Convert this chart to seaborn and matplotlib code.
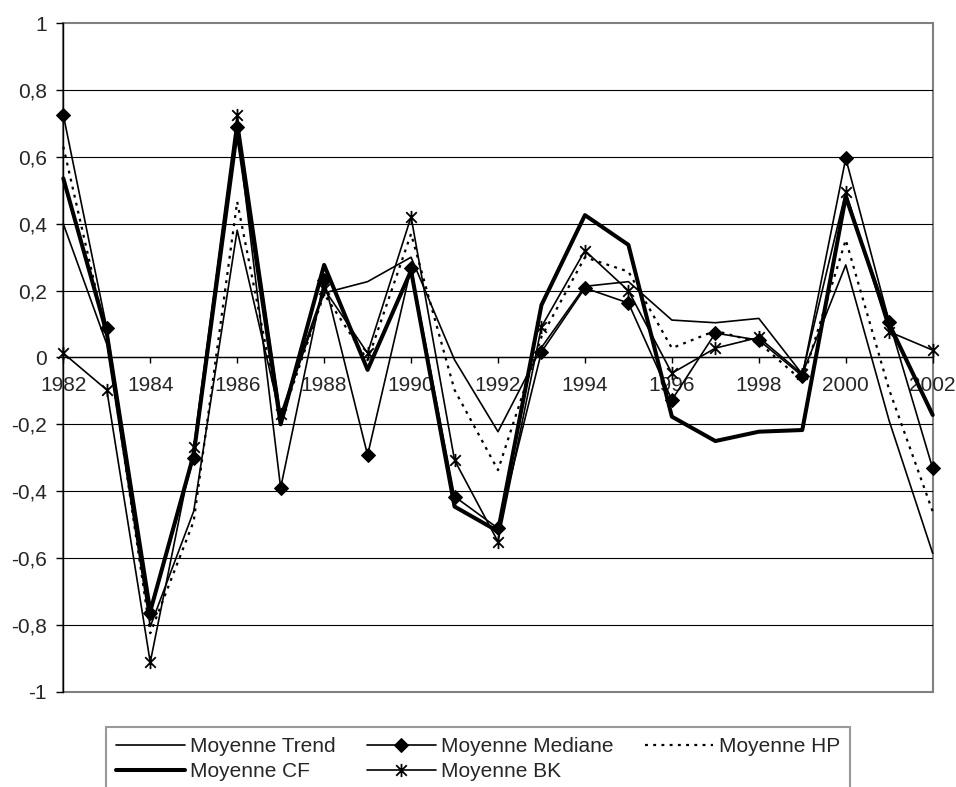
import matplotlib
matplotlib.use("Agg")
import matplotlib.pyplot as plt
from matplotlib.path import Path
from matplotlib.patches import Rectangle
import seaborn as sns
import pandas as pd

# ---- data -------------------------------------------------------------
years = list(range(1982, 2003))

trend = [0.40, 0.04, -0.805, -0.46, 0.381, -0.18, 0.193, 0.227, 0.30, -0.007,
         -0.222, 0.03, 0.213, 0.227, 0.112, 0.104, 0.117, -0.05, 0.277, -0.19,
         -0.586]
mediane = [0.726, 0.088, -0.765, -0.30, 0.69, -0.39, 0.232, -0.292, 0.268,
           -0.416, -0.511, 0.017, 0.208, 0.163, -0.127, 0.073, 0.052, -0.055,
           0.596, 0.107, -0.332]
hp = [0.631, 0.06, -0.825, -0.49, 0.466, -0.19, 0.19, -0.008, 0.37, -0.097,
      -0.337, 0.062, 0.30, 0.257, 0.028, 0.08, 0.045, -0.07, 0.352, -0.097,
      -0.461]
cf = [0.536, 0.073, -0.76, -0.29, 0.68, -0.2, 0.277, -0.037, 0.26, -0.446,
      -0.52, 0.157, 0.426, 0.337, -0.177, -0.25, -0.222, -0.217, 0.481, 0.10,
      -0.172]
bk = [0.013, -0.097, -0.912, -0.267, 0.726, -0.17, 0.205, 0.013, 0.421,
      -0.307, -0.551, 0.092, 0.32, 0.20, -0.047, 0.028, 0.06, -0.05, 0.496,
      0.077, 0.022]

series_names = ["Moyenne Trend", "Moyenne Mediane", "Moyenne HP",
                "Moyenne CF", "Moyenne BK"]

x_ticks = [1982, 1984, 1986, 1988, 1990, 1992, 1994, 1996, 1998, 2000, 2002]
y_ticks = [-1, -0.8, -0.6, -0.4, -0.2, 0, 0.2, 0.4, 0.6, 0.8, 1]
y_labels = ["-1", "-0,8", "-0,6", "-0,4", "-0,2", "0", "0,2", "0,4", "0,6",
            "0,8", "1"]

df = pd.DataFrame({"year": years, "Moyenne Trend": trend,
                   "Moyenne Mediane": mediane, "Moyenne HP": hp,
                   "Moyenne CF": cf, "Moyenne BK": bk})

# ---- style ------------------------------------------------------------
sns.set_style("white")
plt.rcParams["font.family"] = ["Liberation Sans", "DejaVu Sans"]
plt.rcParams["font.size"] = 15

# asterisk marker: an X crossed by a vertical bar
star = Path([(-1, -1), (1, 1), (-1, 1), (1, -1), (0, -1.25), (0, 1.25)],
            [Path.MOVETO, Path.LINETO, Path.MOVETO, Path.LINETO,
             Path.MOVETO, Path.LINETO])

styles = {
    "Moyenne Trend": dict(lw=1.2, linestyle="-"),
    "Moyenne Mediane": dict(lw=1.2, linestyle="-", marker="D", markersize=7.5,
                            markerfacecolor="black", markeredgecolor="black"),
    "Moyenne HP": dict(lw=1.6, linestyle=(0, (1.3, 2.4))),
    "Moyenne CF": dict(lw=2.9, linestyle="-"),
    "Moyenne BK": dict(lw=1.2, linestyle="-", marker=star, markersize=9.5,
                       markeredgewidth=1.3, markeredgecolor="black"),
}

fig = plt.figure(figsize=(9.56, 7.87), dpi=100)
ax = fig.add_axes([63.3 / 956, 1 - 691.7 / 787, (932.7 - 63.3) / 956,
                   (691.7 - 23.3) / 787])

# horizontal gridlines inside the plot area
ax.hlines([v for v in y_ticks if abs(v) < 1], 1982, 2002, colors="black",
          lw=0.8, zorder=1)

handles = {}
for name in series_names:
    sns.lineplot(data=df, x="year", y=name, ax=ax, color="black",
                 label=name, legend=False, zorder=3, clip_on=False,
                 **styles[name])
    handles[name] = ax.lines[-1]

ax.set_xlim(1982, 2002)
ax.set_ylim(-1, 1)
ax.set_xlabel("")
ax.set_ylabel("")

# gray plot-area frame
ax.add_patch(Rectangle((0, 0), 1, 1, transform=ax.transAxes, fill=False,
                       edgecolor="#808080", lw=1.5, zorder=0.5, clip_on=False))
for side in ("top", "right"):
    ax.spines[side].set_visible(False)
ax.spines["left"].set_color("black")
ax.spines["left"].set_linewidth(1.0)
ax.spines["bottom"].set_position(("data", 0))
ax.spines["bottom"].set_color("black")
ax.spines["bottom"].set_linewidth(1.0)
ax.spines["left"].set_zorder(2)
ax.spines["bottom"].set_zorder(2)

ax.set_xticks(x_ticks)
ax.set_xticklabels([str(y) for y in x_ticks])
ax.set_yticks(y_ticks)
ax.set_yticklabels(y_labels)
ax.tick_params(axis="x", direction="out", length=4.5, width=1.0,
               color="black", pad=9, labelsize=15, bottom=True)
ax.tick_params(axis="y", direction="out", length=5, width=1.0,
               color="black", pad=7, labelsize=15, left=True)

order = ["Moyenne Trend", "Moyenne CF", "Moyenne Mediane", "Moyenne BK",
         "Moyenne HP"]
leg = fig.legend([handles[n] for n in order], order, ncol=3,
                 loc="upper center", bbox_to_anchor=(0.5, 1 - 726.7 / 787),
                 frameon=True, fancybox=False, edgecolor="#808080",
                 handlelength=3.3, handletextpad=0.25, columnspacing=1.5,
                 borderpad=0.5, labelspacing=0.3, fontsize=15,
                 borderaxespad=0)
leg.get_frame().set_linewidth(1.5)

fig.savefig("out.png", dpi=100, facecolor="white")
